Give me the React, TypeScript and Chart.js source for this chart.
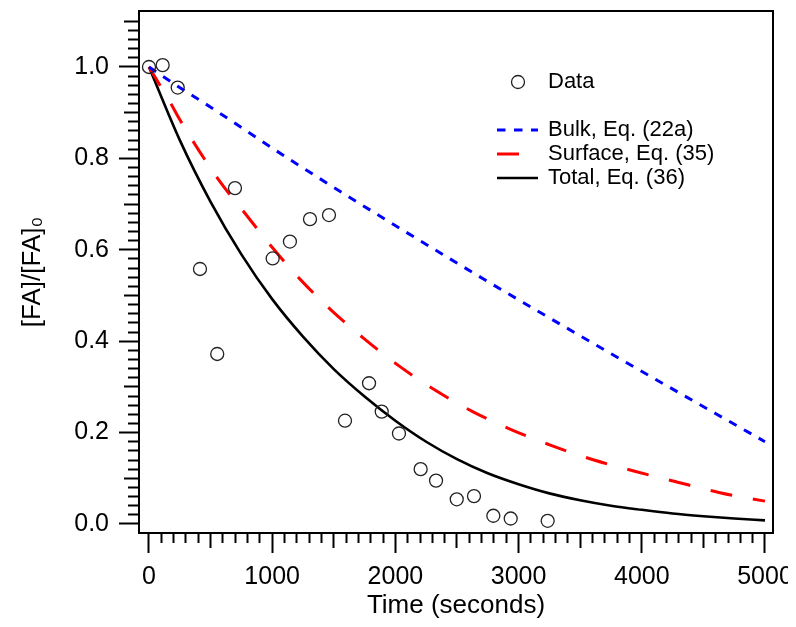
import React, { useEffect, useRef } from 'react';
import { Chart, registerables } from 'chart.js';

Chart.register(...registerables);

// ---- data ----
const dataTime = [0, 111, 233, 414, 554, 698, 1004, 1144, 1307, 1461, 1591, 1786, 1889, 2029, 2205, 2330, 2498, 2638, 2795, 2936, 3236];
const dataValue = [1.0, 1.004, 0.955, 0.558, 0.372, 0.735, 0.581, 0.618, 0.667, 0.676, 0.226, 0.308, 0.246, 0.198, 0.12, 0.095, 0.054, 0.061, 0.018, 0.012, 0.007];

const bulkTime = [0, 233, 495, 1169, 2660, 3800, 5000];
const bulkValue = [1.0, 0.958, 0.913, 0.793, 0.545, 0.365, 0.18];

const surfaceTime = [0, 184, 252, 563, 779, 1001, 1239, 1483, 1753, 2029, 2321, 2627, 2944, 3274, 3612, 3950, 4283, 4643, 5000];
const surfaceValue = [1.0, 0.917, 0.884, 0.754, 0.68, 0.605, 0.532, 0.467, 0.404, 0.346, 0.293, 0.246, 0.206, 0.171, 0.14, 0.115, 0.092, 0.068, 0.05];

const totalTime = [0, 250, 500, 750, 1000, 1250, 1500, 1750, 2000, 2250, 2500, 2750, 3000, 3250, 3500, 3750, 4000, 4250, 4500, 4750, 5000];
const totalValue = [1.0, 0.84, 0.705, 0.59, 0.492, 0.41, 0.339, 0.279, 0.226, 0.18, 0.142, 0.111, 0.087, 0.067, 0.052, 0.04, 0.031, 0.023, 0.017, 0.012, 0.008];

const xMajorTicks = [0, 1000, 2000, 3000, 4000, 5000];
const yMajorTicks = [0.0, 0.2, 0.4, 0.6, 0.8, 1.0];
const xMinorStep = 100;
const xMediumStep = 500;
const yMinorStep = 0.02;
const yMediumStep = 0.1;

const xTitle = 'Time (seconds)';
const yTitle = '[FA]/[FA]\u2080';
const legendLabels = ['Data', 'Bulk, Eq. (22a)', 'Surface, Eq. (35)', 'Total, Eq. (36)'];

const FONT = "'Liberation Sans', Arial, Helvetica, sans-serif";

const pts = (xs: number[], ys: number[]) => xs.map((x, i) => ({ x, y: ys[i] }));

const isMult = (v: number, step: number) => Math.abs(v / step - Math.round(v / step)) < 1e-6;
const isMajor = (v: number, list: number[]) => list.some((m) => Math.abs(m - v) < 1e-6);

const frameAndLegend = {
  id: 'frameAndLegend',
  afterDraw(chart: any) {
    const { ctx, chartArea } = chart;
    ctx.save();
    ctx.strokeStyle = '#000';
    ctx.lineWidth = 2;
    ctx.setLineDash([]);
    ctx.strokeRect(chartArea.left, chartArea.top, chartArea.right - chartArea.left, chartArea.bottom - chartArea.top);

    // legend
    const ds = chart.data.datasets;
    const lx = chartArea.left + 358; // line sample start
    const tx = chartArea.left + 409; // text start
    ctx.font = `22px ${FONT}`;
    ctx.fillStyle = '#000';
    ctx.textBaseline = 'middle';
    ctx.textAlign = 'left';
    const dy = chartArea.top + 71;
    ctx.beginPath();
    ctx.arc(chartArea.left + 379, dy, ds[0].pointRadius, 0, Math.PI * 2);
    ctx.strokeStyle = ds[0].borderColor;
    ctx.lineWidth = ds[0].borderWidth;
    ctx.stroke();
    ctx.fillText(legendLabels[0], tx, dy);
    const rows = [chartArea.top + 119, chartArea.top + 143, chartArea.top + 167];
    for (let i = 1; i <= 3; i++) {
      const y = rows[i - 1];
      ctx.beginPath();
      ctx.strokeStyle = ds[i].borderColor;
      ctx.lineWidth = ds[i].borderWidth;
      ctx.setLineDash(ds[i].borderDash || []);
      ctx.moveTo(lx, y);
      ctx.lineTo(lx + 41, y);
      ctx.stroke();
      ctx.setLineDash([]);
      ctx.fillText(legendLabels[i], tx, y);
    }
    ctx.restore();
  },
};

export default function App() {
  const ref = useRef<HTMLCanvasElement | null>(null);
  useEffect(() => {
    if (!ref.current) return;
    Chart.defaults.font.family = FONT;
    Chart.defaults.color = '#000';
    const chart = new Chart(ref.current, {
      type: 'scatter',
      data: {
        datasets: [
          {
            label: legendLabels[0],
            data: pts(dataTime, dataValue),
            showLine: false,
            pointRadius: 6.5,
            pointHoverRadius: 6.5,
            borderWidth: 1.3,
            borderColor: '#222',
            backgroundColor: 'rgba(0,0,0,0)',
            order: 0,
          } as any,
          {
            label: legendLabels[1],
            data: pts(bulkTime, bulkValue),
            showLine: true,
            pointRadius: 0,
            borderColor: '#0000ff',
            borderWidth: 3,
            borderDash: [8.5, 8.5],
            cubicInterpolationMode: 'monotone',
            order: 1,
          } as any,
          {
            label: legendLabels[2],
            data: pts(surfaceTime, surfaceValue),
            showLine: true,
            pointRadius: 0,
            borderColor: '#ff0000',
            borderWidth: 3,
            borderDash: [22, 21],
            cubicInterpolationMode: 'monotone',
            order: 2,
          } as any,
          {
            label: legendLabels[3],
            data: pts(totalTime, totalValue),
            showLine: true,
            pointRadius: 0,
            borderColor: '#000000',
            borderWidth: 2.6,
            cubicInterpolationMode: 'monotone',
            order: 3,
          } as any,
        ],
      },
      options: {
        animation: false,
        responsive: false,
        devicePixelRatio: 1,
        layout: { autoPadding: false, padding: { top: 3, right: 15, left: 0, bottom: 0 } },
        plugins: { legend: { display: false }, tooltip: { enabled: false } },
        scales: {
          x: {
            type: 'linear',
            min: -81,
            max: 5065,
            afterBuildTicks: (scale: any) => {
              const t = [];
              for (let v = 0; v <= 5000; v += xMinorStep) t.push({ value: v });
              scale.ticks = t;
            },
            afterFit: (scale: any) => {
              scale.height = 86;
              scale.paddingLeft = 0;
              scale.paddingRight = 0;
            },
            ticks: {
              autoSkip: false,
              maxRotation: 0,
              padding: 9,
              font: { size: 25 },
              color: '#000',
              callback: (v: any) => (isMajor(Number(v), xMajorTicks) ? String(v) : ''),
            },
            grid: {
              drawOnChartArea: false,
              drawTicks: true,
              tickLength: 20,
              tickWidth: 2,
              tickColor: '#000',
              tickBorderDash: (c: any) => {
                const v = c.tick ? c.tick.value : 0;
                if (isMajor(v, xMajorTicks)) return [];
                if (isMult(v, xMediumStep)) return [14, 100];
                return [9, 100];
              },
            },
            border: { display: true, color: '#000', width: 2 },
            title: {
              display: true,
              text: xTitle,
              font: { size: 26, lineHeight: 1 },
              padding: { top: 0, bottom: 0 },
              color: '#000',
            },
          },
          y: {
            type: 'linear',
            min: -0.0197,
            max: 1.1225,
            afterBuildTicks: (scale: any) => {
              const t = [];
              for (let i = 0; i <= 55; i++) t.push({ value: Math.round(i * yMinorStep * 100) / 100 });
              scale.ticks = t;
            },
            afterFit: (scale: any) => {
              scale.width = 131;
              scale.paddingTop = 0;
              scale.paddingBottom = 0;
            },
            ticks: {
              autoSkip: false,
              padding: 10,
              font: { size: 25 },
              color: '#000',
              callback: (v: any) => (isMajor(Number(v), yMajorTicks) ? Number(v).toFixed(1) : ''),
            },
            grid: {
              drawOnChartArea: false,
              drawTicks: true,
              tickLength: 20,
              tickWidth: 2,
              tickColor: '#000',
              tickBorderDash: (c: any) => {
                const v = c.tick ? c.tick.value : 0;
                if (isMajor(v, yMajorTicks)) return [];
                if (isMult(v, yMediumStep)) return [14, 100];
                return [10, 100];
              },
              tickBorderDashOffset: (c: any) => {
                const v = c.tick ? c.tick.value : 0;
                if (isMajor(v, yMajorTicks)) return 0;
                if (isMult(v, yMediumStep)) return 109;
                return 101;
              },
            },
            border: { display: true, color: '#000', width: 2 },
            title: {
              display: true,
              text: yTitle,
              font: { size: 26, lineHeight: 1.2 },
              padding: { top: 9, bottom: 0 },
              color: '#000',
            },
          },
        },
      },
      plugins: [frameAndLegend],
    } as any);
    return () => chart.destroy();
  }, []);
  return (
    <div style={{ width: 780, height: 611 }}>
      <canvas ref={ref} width={780} height={611} style={{ display: 'block' }} />
    </div>
  );
}
